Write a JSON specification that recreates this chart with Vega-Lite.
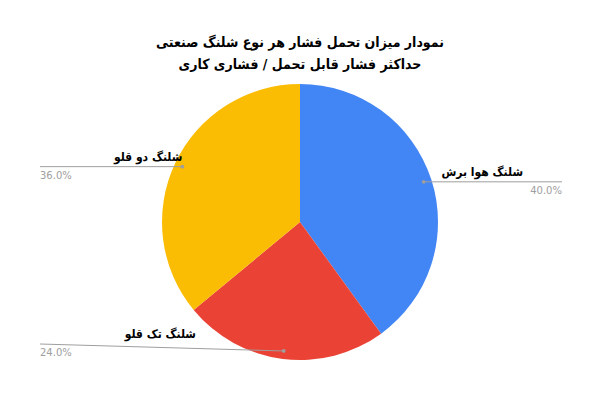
{
  "$schema": "https://vega.github.io/schema/vega-lite/v6.json",
  "width": 600,
  "height": 368,
  "autosize": "none",
  "padding": {"top": 38, "left": 0, "right": 0, "bottom": 0},
  "config": {"view": {"stroke": null}, "font": "DejaVu Sans Condensed"},
  "title": {
    "text": ["نمودار میزان تحمل فشار هر نوع شلنگ صنعتی", "حداکثر فشار قابل تحمل / فشاری کاری"],
    "font": "DejaVu Sans Condensed",
    "fontSize": 14,
    "fontWeight": "bold",
    "color": "black",
    "anchor": "middle",
    "frame": "group",
    "lineHeight": 22,
    "offset": -34
  },
  "data": {
    "values": [
      {"category": "شلنگ هوا برش", "value": 40},
      {"category": "شلنگ تک قلو", "value": 24},
      {"category": "شلنگ دو قلو", "value": 36}
    ]
  },
  "transform": [
    {"window": [{"op": "sum", "field": "value", "as": "cum"}, {"op": "row_number", "as": "idx"}], "frame": [null, 0]},
    {"joinaggregate": [{"op": "sum", "field": "value", "as": "total"}]},
    {"calculate": "2 * PI * (datum.cum - datum.value / 2) / datum.total", "as": "mid"},
    {"calculate": "130 * sin(datum.mid)", "as": "ax"},
    {"calculate": "130 * cos(datum.mid)", "as": "ay"},
    {"calculate": "datum.ax >= 0 ? 262 : -260", "as": "ex"},
    {"calculate": "clamp(datum.ay, -122, 122)", "as": "ey"},
    {"calculate": "datum.ax >= 0 ? 223 : min(datum.ax, -104)", "as": "lx"},
    {"calculate": "format(datum.value / datum.total, '.1%')", "as": "pct"}
  ],
  "layer": [
    {
      "mark": {"type": "arc", "outerRadius": 138},
      "encoding": {
        "theta": {"field": "value", "type": "quantitative", "stack": true},
        "order": {"field": "idx", "type": "quantitative", "sort": "ascending"},
        "color": {
          "field": "category",
          "type": "nominal",
          "sort": ["شلنگ هوا برش", "شلنگ تک قلو", "شلنگ دو قلو"],
          "scale": {
            "domain": ["شلنگ هوا برش", "شلنگ تک قلو", "شلنگ دو قلو"],
            "range": ["#4285F4", "#EA4335", "#FBBC04"]
          },
          "legend": null
        }
      }
    },
    {
      "encoding": {
        "x": {"field": "ax", "type": "quantitative", "scale": {"domain": [-300, 300], "nice": false, "zero": false}, "axis": null},
        "y": {"field": "ay", "type": "quantitative", "scale": {"domain": [-184, 184], "nice": false, "zero": false}, "axis": null}
      },
      "layer": [
        {
          "mark": {"type": "rule", "color": "#9e9e9e", "strokeWidth": 1},
          "encoding": {
            "x2": {"field": "ex"},
            "y2": {"field": "ey"}
          }
        },
        {
          "mark": {"type": "point", "filled": true, "size": 14, "color": "#9e9e9e", "opacity": 1},
          "encoding": {}
        },
        {
          "mark": {"type": "text", "align": "right", "baseline": "bottom", "dy": -3, "fontSize": 12, "fontWeight": "bold", "color": "black"},
          "encoding": {
            "x": {"field": "lx", "type": "quantitative"},
            "y": {"field": "ey", "type": "quantitative"},
            "text": {"field": "category"}
          }
        },
        {
          "transform": [{"filter": "datum.ax >= 0"}],
          "mark": {"type": "text", "align": "right", "baseline": "top", "dy": 4, "fontSize": 10, "font": "DejaVu Sans", "color": "#9e9e9e"},
          "encoding": {
            "x": {"field": "ex", "type": "quantitative"},
            "y": {"field": "ey", "type": "quantitative"},
            "text": {"field": "pct"}
          }
        },
        {
          "transform": [{"filter": "datum.ax < 0"}],
          "mark": {"type": "text", "align": "left", "baseline": "top", "dy": 4, "fontSize": 10, "font": "DejaVu Sans", "color": "#9e9e9e"},
          "encoding": {
            "x": {"field": "ex", "type": "quantitative"},
            "y": {"field": "ey", "type": "quantitative"},
            "text": {"field": "pct"}
          }
        }
      ]
    }
  ]
}
